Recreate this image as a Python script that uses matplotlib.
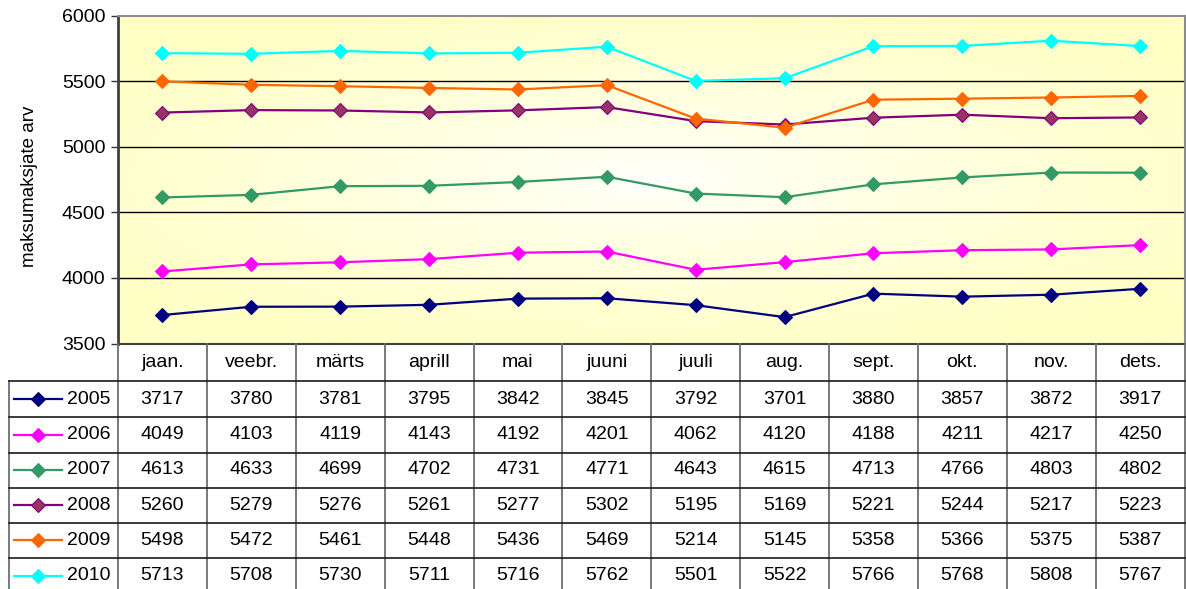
import numpy as np
import matplotlib.pyplot as plt
from matplotlib.lines import Line2D

plt.rcParams['font.family'] = ['Liberation Sans', 'DejaVu Sans']

#%% Data

months = ['jaan.', 'veebr.', 'märts', 'aprill', 'mai', 'juuni',
          'juuli', 'aug.', 'sept.', 'okt.', 'nov.', 'dets.']
years = ['2005', '2006', '2007', '2008', '2009', '2010']

v2005 = [3717, 3780, 3781, 3795, 3842, 3845, 3792, 3701, 3880, 3857, 3872, 3917]
v2006 = [4049, 4103, 4119, 4143, 4192, 4201, 4062, 4120, 4188, 4211, 4217, 4250]
v2007 = [4613, 4633, 4699, 4702, 4731, 4771, 4643, 4615, 4713, 4766, 4803, 4802]
v2008 = [5260, 5279, 5276, 5261, 5277, 5302, 5195, 5169, 5221, 5244, 5217, 5223]
v2009 = [5498, 5472, 5461, 5448, 5436, 5469, 5214, 5145, 5358, 5366, 5375, 5387]
v2010 = [5713, 5708, 5730, 5711, 5716, 5762, 5501, 5522, 5766, 5768, 5808, 5767]
series = [v2005, v2006, v2007, v2008, v2009, v2010]

# line colour, marker face colour
line_cols = ['#000080', '#FF00FF', '#339966', '#800080', '#FF6600', '#00FFFF']
face_cols = ['#000080', '#FF00FF', '#339966', '#993366', '#FF6600', '#00FFFF']

FS = 14

#%% Figure layout (pixels)

W, H = 1186, 589
x0, x1 = 118, 1184.5      # plot area left / right
y_top, y_bot = 15.5, 343.5  # plot area top / bottom
row_y = [343.5, 381, 417, 452.5, 487.5, 522.5, 558, 593]
leg_left = 8.5

fig = plt.figure(figsize=(W / 100, H / 100), dpi=100)
ax = fig.add_axes([x0 / W, 1 - y_bot / H, (x1 - x0) / W, (y_bot - y_top) / H])

# soft yellow background, whiter towards the middle
gx, gy = np.meshgrid(np.linspace(-1, 1, 300), np.linspace(-1, 1, 150))
r = np.clip(np.sqrt((gx * 0.9) ** 2 + gy ** 2) / 1.1, 0, 1)
edge = np.array([255, 255, 198]) / 255
centre = np.array([255, 255, 252]) / 255
bg = centre + (edge - centre) * r[..., None] ** 0.8
ax.imshow(bg, extent=[-0.5, 11.5, 3500, 6000], aspect='auto', zorder=0)

x = np.arange(len(months))
for vals, lc, fc in zip(series, line_cols, face_cols):
    ax.plot(x, vals, color=lc, lw=1.6, marker='D', ms=7,
            mfc=fc, mec=lc, mew=0.8, zorder=3)

ax.set_xlim(-0.5, 11.5)
ax.set_ylim(3500, 6000)
ax.set_yticks(np.arange(3500, 6001, 500))
for g in [4000, 4500, 5000, 5500]:
    ax.axhline(g, color='black', lw=1, zorder=1)
ax.set_xticks([])
ax.tick_params(axis='y', direction='out', length=5, width=1, color='#333333',
               labelsize=FS, pad=4)
ax.set_ylabel('maksumaksjate arv', fontsize=13.5)
ax.yaxis.set_label_coords(-(x0 - 38) / (x1 - x0), 0.48)

ax.spines['left'].set_color('#404040')
ax.spines['left'].set_linewidth(2)
ax.spines['bottom'].set_color('#404040')
ax.spines['bottom'].set_linewidth(1.5)
for s in ['top', 'right']:
    ax.spines[s].set_color('#8c8c8c')
    ax.spines[s].set_linewidth(1.5)

#%% Data table under the chart

tab = fig.add_axes([0, 0, 1, 1])
tab.set_xlim(0, W)
tab.set_ylim(H, 0)
tab.axis('off')

colw = (x1 - x0) / len(months)
col_edges = [x0 + i * colw for i in range(len(months) + 1)]

# vertical grid of the table
for cx in col_edges:
    tab.plot([cx, cx], [row_y[0], H], color='#6e6e6e', lw=1.3)
tab.plot([leg_left, leg_left], [row_y[1], H], color='#6e6e6e', lw=1.3)

# horizontal lines
for ry in row_y[1:-1]:
    tab.plot([leg_left, x1], [ry, ry], color='#1a1a1a', lw=1.2)

# month headers
for i, m in enumerate(months):
    tab.text(x0 + (i + 0.5) * colw, (row_y[0] + row_y[1]) / 2, m,
             ha='center', va='center', fontsize=FS)

# one row per year with a legend key
for k, (yr, vals) in enumerate(zip(years, series)):
    cy = (row_y[k + 1] + row_y[k + 2]) / 2
    tab.add_line(Line2D([14, 62], [cy, cy], color=line_cols[k], lw=1.6))
    tab.plot(38, cy, marker='D', ms=7, color=line_cols[k],
             mfc=face_cols[k], mec=line_cols[k], mew=0.8)
    tab.text(67, cy, yr, ha='left', va='center', fontsize=FS)
    for i, v in enumerate(vals):
        tab.text(x0 + (i + 0.5) * colw, cy, str(v),
                 ha='center', va='center', fontsize=FS)

fig.savefig('out.png', dpi=100)
